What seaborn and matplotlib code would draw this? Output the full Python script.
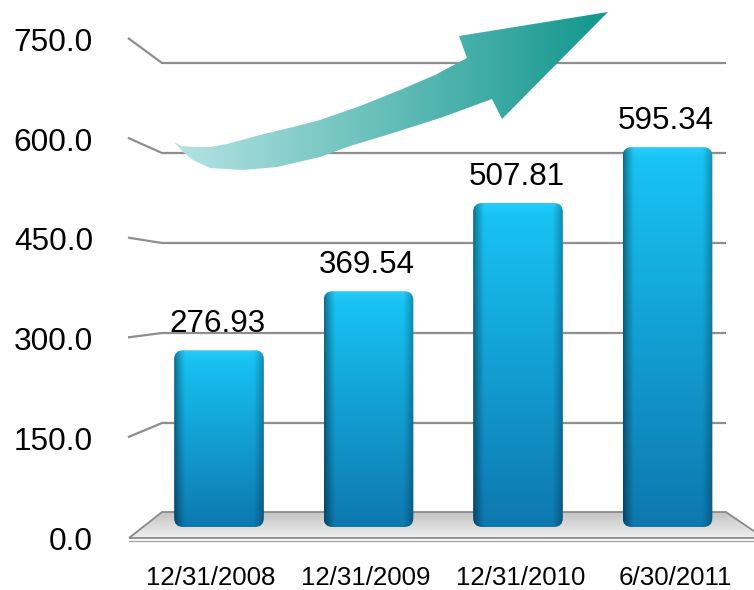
import numpy as np
import pandas as pd
import matplotlib
matplotlib.use("Agg")
import matplotlib.pyplot as plt
import seaborn as sns
from matplotlib.patches import Polygon, FancyBboxPatch
from matplotlib.colors import to_rgb

# ---- data ----
categories = ["12/31/2008", "12/31/2009", "12/31/2010", "6/30/2011"]
values = [276.93, 369.54, 507.81, 595.34]
value_labels = ["276.93", "369.54", "507.81", "595.34"]
tick_values = [0, 150, 300, 450, 600, 750]
tick_labels = ["0.0", "150.0", "300.0", "450.0", "600.0", "750.0"]

W, H = 754, 590
sns.set_theme(style="white")
plt.rcParams["font.family"] = ["Liberation Sans", "DejaVu Sans"]

fig = plt.figure(figsize=(W / 100, H / 100), dpi=100)
ax = fig.add_axes([0, 0, 1, 1])

# layout in pixels (position/scale of the plotting plane)
X0, DX = 219.0, 149.5     # first bar centre, spacing
Y0, SY = 527.0, 0.638     # baseline, px per unit


def dx(px):
    return (px - X0) / DX


def dy(py):
    return (Y0 - py) / SY


df = pd.DataFrame({"date": categories, "value": values})
sns.barplot(data=df, x="date", y="value", order=categories, width=0.6,
            color="#1590c8", ax=ax, zorder=3)

# perspective wall lines
def front_y(v):
    return 537 - v * (537 - 38) / 750


def back_y(v):
    return 513 - v * 0.6


grid_col = "#8e8e8e"
for v in tick_values:
    if v == 0:
        continue
    ax.plot([dx(128), dx(162), dx(726)], [dy(front_y(v)), dy(back_y(v)), dy(back_y(v))],
            color=grid_col, lw=1.6, zorder=1, solid_capstyle="butt")

# floor
floor_px = [(129, 538), (162, 512), (726, 512), (764, 538)]
floor = Polygon([(dx(a), dy(b)) for a, b in floor_px], closed=True,
                facecolor="none", edgecolor="#8a8a8a", lw=1.3, zorder=2.2)
ax.add_patch(floor)
g = np.linspace(0, 1, 64)[:, None]
c_back = np.array(to_rgb("#c2c2c2"))
c_front = np.array(to_rgb("#efefef"))
img = (c_back[None, None, :] * (1 - g[..., None]) + c_front[None, None, :] * g[..., None])
img = np.repeat(img, 2, axis=1)
im = ax.imshow(img, extent=(dx(125), dx(770), dy(538), dy(512)), origin="upper",
               aspect="auto", zorder=2, interpolation="bilinear")
im.set_clip_path(floor)
ax.plot([dx(129), dx(764)], [dy(541), dy(541)], color="#a8a8a8", lw=1.0, zorder=2.1)

# bars with shaded gradient and rounded corners
top_c = np.array([24, 198, 246]) / 255
bot_c = np.array([13, 120, 175]) / 255
for p in list(ax.patches):
    if isinstance(p, Polygon):
        continue
    x, y, w, h = p.get_x(), p.get_y(), p.get_width(), p.get_height()
    p.set_visible(False)
    wpx = w * DX
    nx, ny = 120, 200
    u = np.linspace(0, 1, nx) * wpx
    shade = np.ones(nx)
    left = u < 11
    shade[left] = 0.55 + 0.45 * (u[left] / 11) ** 0.8
    right = u > wpx - 10
    shade[right] = 1 - 0.28 * ((u[right] - (wpx - 10)) / 10)
    t = np.linspace(0, 1, ny)
    hpx = h * SY
    base = bot_c[None, :] * (1 - t[:, None]) + top_c[None, :] * t[:, None]
    cap = np.clip(1 - (hpx * (1 - t)) / 10, 0, 1)
    base = base * (1 - 0.25 * cap[:, None]) + np.array([0.35, 0.85, 1.0])[None, :] * 0.25 * cap[:, None]
    arr = np.clip(base[:, None, :] * shade[None, :, None], 0, 1)
    r = 9 / DX
    box = FancyBboxPatch((x, y), w, h, boxstyle=f"round,pad=0,rounding_size={r}",
                         mutation_aspect=DX / SY, transform=ax.transData,
                         facecolor="none", edgecolor="none")
    ax.add_patch(box)
    bi = ax.imshow(arr, extent=(x, x + w, y, y + h), origin="lower", aspect="auto",
                   zorder=3, interpolation="bilinear")
    bi.set_clip_path(box)

# value labels
for i, (v, lbl) in enumerate(zip(values, value_labels)):
    ax.annotate(lbl, (i, v), xytext=(-1, 13), textcoords="offset points",
                ha="center", va="baseline", fontsize=22.6, color="black", zorder=6)

# y tick labels on the front plane
for v, lbl in zip(tick_values, tick_labels):
    ax.text(dx(93), dy(front_y(v) + 12.8), lbl, ha="right", va="baseline",
            fontsize=22.7, color="black", zorder=6)

# x labels on the front plane
for i, cat in enumerate(categories):
    pb = X0 + DX * i
    pl = 443 + (pb - 443) * 1.035
    ax.text(dx(pl), dy(585), cat, ha="center", va="baseline", fontsize=18.6,
            color="black", zorder=6)

# trend arrow
arrow_px = [(174, 142), (181, 146), (193, 147), (210, 147), (227, 144), (260, 135),
            (293, 127), (320, 120), (360, 106), (400, 90), (435, 75), (467, 58),
            (459, 36), (608, 12), (502, 119), (492, 99),
            (443, 117), (393, 133), (350, 146), (320, 157), (277, 167), (243, 170),
            (210, 168), (193, 160), (183, 152)]
arrow = Polygon([(dx(a), dy(b)) for a, b in arrow_px], closed=True,
                facecolor="none", edgecolor="none", zorder=5)
ax.add_patch(arrow)
c0 = np.array(to_rgb("#b6e4e4"))
c1 = np.array(to_rgb("#10968c"))
s = np.linspace(0, 1, 200)[None, :, None]
agrad = c0 * (1 - s) + c1 * s
agrad = np.repeat(agrad, 2, axis=0)
ai = ax.imshow(agrad, extent=(dx(172), dx(610), dy(172), dy(10)), origin="upper",
               aspect="auto", zorder=5, interpolation="bilinear")
ai.set_clip_path(arrow)

ax.set_xlim(dx(0), dx(W))
ax.set_ylim(dy(H), dy(0))
ax.axis("off")
fig.savefig("out.png", dpi=100)
